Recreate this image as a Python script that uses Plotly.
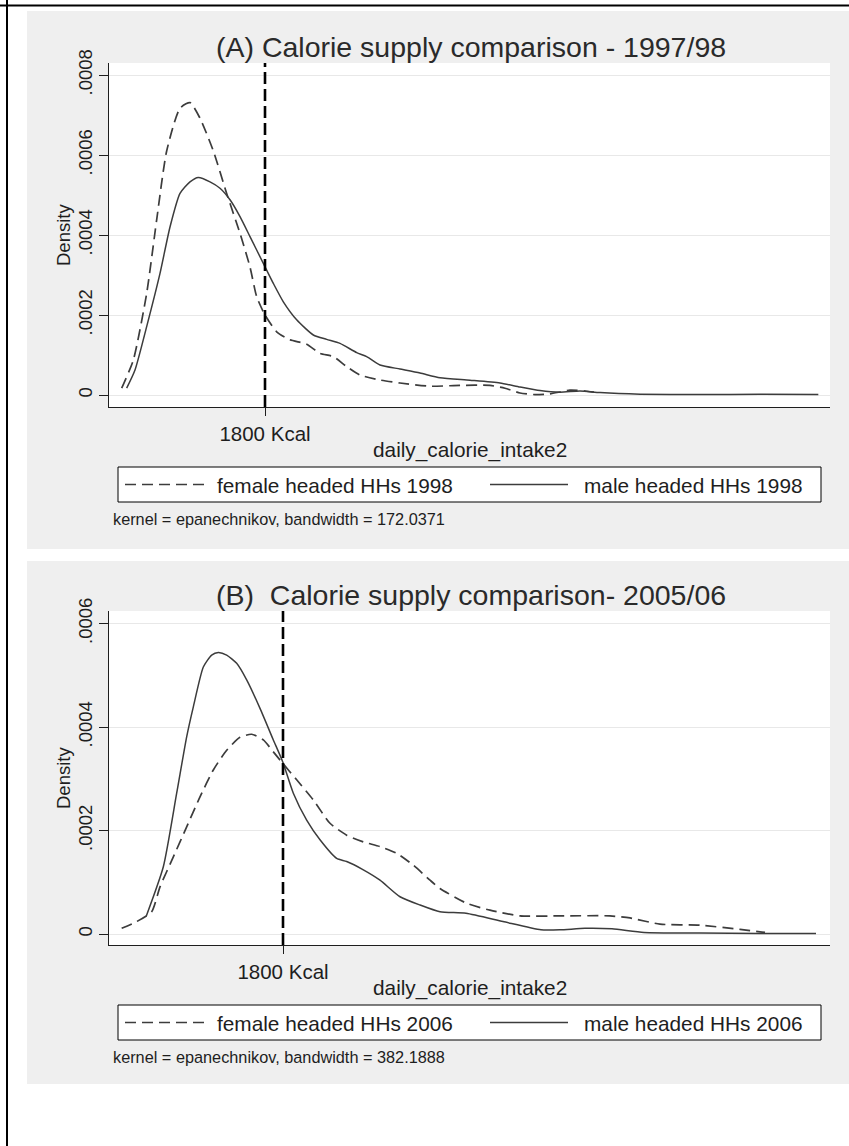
import plotly.graph_objects as go

# ---------------- data ----------------
cutoff_kcal = 1800

a_female_x = [510, 615, 735, 825, 915, 1035, 1125, 1215, 1335, 1455, 1575, 1665, 1725, 1800,
              1905, 2025, 2175, 2295, 2415, 2535, 2655, 2835, 3015, 3285, 3555, 3825, 3960,
              4095, 4230, 4365, 4545, 4680, 4800]
a_female_y = [1.7e-5, 8.75e-5, 2.54e-4, 4.38e-4, 6.1e-4, 7.17e-4, 7.31e-4, 6.92e-4, 6.1e-4,
              5.04e-4, 4.04e-4, 3.2e-4, 2.46e-4, 2.0e-4, 1.58e-4, 1.38e-4, 1.27e-4, 1.04e-4,
              9.6e-5, 7.1e-5, 5.0e-5, 3.75e-5, 3.0e-5, 2.2e-5, 2.4e-5, 2.4e-5, 1.7e-5, 5e-6,
              1e-6, 3e-6, 1.2e-5, 1.0e-5, 6e-6]

a_male_x = [555, 630, 735, 855, 945, 1035, 1125, 1200, 1305, 1395, 1485, 1575, 1665, 1785,
            1875, 1965, 2085, 2235, 2355, 2475, 2625, 2715, 2835, 3015, 3195, 3375, 3645,
            3915, 4095, 4275, 4455, 4635, 4815, 5175, 5715, 6255, 6780]
a_male_y = [1.7e-5, 6.25e-5, 1.71e-4, 3.04e-4, 4.2e-4, 5.04e-4, 5.33e-4, 5.44e-4, 5.33e-4,
            5.17e-4, 4.88e-4, 4.46e-4, 3.96e-4, 3.29e-4, 2.79e-4, 2.33e-4, 1.88e-4, 1.5e-4,
            1.39e-4, 1.29e-4, 1.06e-4, 9.6e-5, 7.5e-5, 6.5e-5, 5.5e-5, 4.3e-5, 3.7e-5, 3.0e-5,
            2.0e-5, 1.1e-5, 7e-6, 1.0e-5, 6e-6, 2e-6, 1e-6, 2e-6, 1e-6]

b_female_x = [348, 483, 618, 693, 813, 933, 1053, 1173, 1293, 1413, 1518, 1623, 1713, 1797,
              1923, 2073, 2223, 2373, 2523, 2673, 2823, 2973, 3123, 3213, 3447, 3663, 3933,
              4293, 4743, 4923, 5193, 5553, 5913, 6138]
b_female_y = [1.1e-5, 2.4e-5, 4.3e-5, 9.1e-5, 1.49e-4, 2.07e-4, 2.65e-4, 3.17e-4, 3.55e-4,
              3.8e-4, 3.86e-4, 3.75e-4, 3.52e-4, 3.30e-4, 2.98e-4, 2.59e-4, 2.14e-4, 1.91e-4,
              1.78e-4, 1.69e-4, 1.56e-4, 1.33e-4, 1.04e-4, 8.8e-5, 6.0e-5, 4.6e-5, 3.5e-5,
              3.5e-5, 3.5e-5, 3.1e-5, 1.9e-5, 1.7e-5, 9e-6, 3e-6]

b_male_x = [570, 723, 843, 933, 993, 1083, 1158, 1218, 1293, 1383, 1473, 1593, 1713, 1797,
            1893, 2013, 2133, 2283, 2373, 2523, 2673, 2853, 3033, 3213, 3447, 3780, 4122,
            4293, 4518, 4761, 5049, 5553, 6093, 6597]
b_male_y = [3.5e-5, 1.30e-4, 2.72e-4, 3.81e-4, 4.39e-4, 5.16e-4, 5.39e-4, 5.44e-4, 5.39e-4,
            5.23e-4, 4.91e-4, 4.36e-4, 3.75e-4, 3.33e-4, 2.72e-4, 2.2e-4, 1.82e-4, 1.46e-4,
            1.40e-4, 1.24e-4, 1.04e-4, 7.2e-5, 5.6e-5, 4.3e-5, 4.0e-5, 2.4e-5, 8e-6, 8e-6,
            1.1e-5, 1.0e-5, 3e-6, 2e-6, 1e-6, 1e-6]

a_ytick_vals = [0, 0.0002, 0.0004, 0.0006, 0.0008]
a_ytick_text = ["0", ".0002", ".0004", ".0006", ".0008"]
b_ytick_vals = [0, 0.0002, 0.0004, 0.0006]
b_ytick_text = ["0", ".0002", ".0004", ".0006"]

title_a = "(A) Calorie supply comparison - 1997/98"
title_b = "(B)  Calorie supply comparison- 2005/06"
names_a = ["female headed HHs 1998", "male headed HHs 1998"]
names_b = ["female headed HHs 2006", "male headed HHs 2006"]
note_a = "kernel = epanechnikov, bandwidth = 172.0371"
note_b = "kernel = epanechnikov, bandwidth = 382.1888"
x_title = "daily_calorie_intake2"
y_title = "Density"
cut_label = "1800 Kcal"

# ---------------- layout helpers ----------------
W, H = 849, 1146
FONT = "Liberation Sans, Arial, Helvetica, sans-serif"
INK = "#1e1e1e"
CURVE = "#3c3c3c"
PANEL = "#efefef"
GRID = "#e8e8e8"
DASH_CURVE = "11px,6px"


def fx(px):
    return px / W


def fy(py):
    return 1 - py / H


fig = go.Figure()

panels = [
    dict(xa="x", ya="y", top=11, bottom=549, ptop=63, pbot=407, zero=395, per=80,
         fem=(a_female_x, a_female_y), male=(a_male_x, a_male_y), names=names_a,
         title=title_a, note=note_a, yv=a_ytick_vals, yt=a_ytick_text,
         xr=[1800 - 156 * 9, 1800 + 565 * 9]),
    dict(xa="x2", ya="y2", top=561, bottom=1084, ptop=611, pbot=945, zero=934, per=103.5,
         fem=(b_female_x, b_female_y), male=(b_male_x, b_male_y), names=names_b,
         title=title_b, note=note_b, yv=b_ytick_vals, yt=b_ytick_text,
         xr=[1800 - 174 * 9, 1800 + 547 * 9]),
]

PL, PR = 109, 830
shapes = []
annotations = []

for i, p in enumerate(panels):
    fig.add_trace(go.Scatter(x=p["fem"][0], y=p["fem"][1], xaxis=p["xa"], yaxis=p["ya"],
                             mode="lines", name=p["names"][0], showlegend=False,
                             line=dict(color=CURVE, width=1.7, dash=DASH_CURVE,
                                       shape="spline", smoothing=0.6)))
    fig.add_trace(go.Scatter(x=p["male"][0], y=p["male"][1], xaxis=p["xa"], yaxis=p["ya"],
                             mode="lines", name=p["names"][1], showlegend=False,
                             line=dict(color=CURVE, width=1.5, shape="spline", smoothing=0.6)))

    ylo = -(p["pbot"] - p["zero"]) / p["per"] * 0.0002
    yhi = (p["zero"] - p["ptop"]) / p["per"] * 0.0002
    sfx = "" if i == 0 else "2"
    fig.layout["xaxis" + sfx] = dict(
        domain=[fx(PL), fx(PR)], anchor=p["ya"], range=p["xr"], showgrid=False,
        zeroline=False, showline=True, linecolor=INK, linewidth=1, ticks="outside",
        ticklen=8, tickcolor=INK, tickwidth=1, tickvals=[cutoff_kcal], ticktext=[cut_label],
        tickfont=dict(family=FONT, size=20.5, color=INK), fixedrange=True, automargin=False)
    fig.layout["yaxis" + sfx] = dict(
        domain=[fy(p["pbot"]), fy(p["ptop"])], anchor=p["xa"], range=[ylo, yhi],
        showgrid=True, gridcolor=GRID, gridwidth=1, zeroline=False, showline=True,
        linecolor=INK, linewidth=1, ticks="outside", ticklen=9, tickcolor=INK, tickwidth=1,
        tickvals=p["yv"], ticktext=p["yt"], tickangle=-90,
        tickfont=dict(family=FONT, size=18.5, color=INK), fixedrange=True, automargin=False)

    shapes.append(dict(type="rect", xref="paper", yref="paper", x0=fx(27), x1=1,
                       y0=fy(p["bottom"]), y1=fy(p["top"]), fillcolor=PANEL,
                       line=dict(width=0), layer="below"))
    shapes.append(dict(type="rect", xref="paper", yref="paper", x0=fx(PL), x1=fx(PR),
                       y0=fy(p["pbot"]), y1=fy(p["ptop"]), fillcolor="white",
                       line=dict(width=0), layer="below"))
    shapes.append(dict(type="line", xref=p["xa"], yref=p["ya"] + " domain", x0=cutoff_kcal,
                       x1=cutoff_kcal, y0=0, y1=1,
                       line=dict(color="black", width=2.6, dash="12px,5px"), layer="above"))

    off = p["pbot"]
    lt, lb = off + 60, off + 95
    shapes.append(dict(type="rect", xref="paper", yref="paper", x0=fx(118), x1=fx(821),
                       y0=fy(lb), y1=fy(lt), fillcolor="white",
                       line=dict(color="black", width=1), layer="above"))
    ly = (lt + lb) / 2
    shapes.append(dict(type="line", xref="paper", yref="paper", x0=fx(125), x1=fx(205),
                       y0=fy(ly), y1=fy(ly),
                       line=dict(color=CURVE, width=1.7, dash=DASH_CURVE), layer="above"))
    shapes.append(dict(type="line", xref="paper", yref="paper", x0=fx(490), x1=fx(568),
                       y0=fy(ly), y1=fy(ly),
                       line=dict(color=CURVE, width=1.5), layer="above"))
    annotations.append(dict(text=p["names"][0], xref="paper", yref="paper", x=fx(215),
                            y=fy(ly + 1), xanchor="left", yanchor="middle", showarrow=False,
                            font=dict(family=FONT, size=20.8, color=INK)))
    annotations.append(dict(text=p["names"][1], xref="paper", yref="paper", x=fx(582),
                            y=fy(ly + 1), xanchor="left", yanchor="middle", showarrow=False,
                            font=dict(family=FONT, size=20.8, color=INK)))
    annotations.append(dict(text=p["note"], xref="paper", yref="paper", x=fx(111),
                            y=fy(off + 112), xanchor="left", yanchor="middle",
                            showarrow=False, font=dict(family=FONT, size=16.3, color=INK)))
    annotations.append(dict(text=x_title, xref="paper", yref="paper", x=fx((PL + PR) / 2),
                            y=fy(off + 43), xanchor="center", yanchor="middle",
                            showarrow=False, font=dict(family=FONT, size=20.8, color=INK)))
    annotations.append(dict(text=p["title"], xref="paper", yref="paper", x=fx(471),
                            y=fy(p["ptop"] - 16), xanchor="center", yanchor="middle",
                            showarrow=False, font=dict(family=FONT, size=28.5, color="#2a2a2a")))
    annotations.append(dict(text=y_title, xref="paper", yref="paper", x=fx(63),
                            y=fy((p["ptop"] + p["pbot"]) / 2), xanchor="center",
                            yanchor="middle", textangle=-90, showarrow=False,
                            font=dict(family=FONT, size=18.5, color=INK)))

shapes.append(dict(type="line", xref="paper", yref="paper", x0=0, x1=1, y0=fy(5.5),
                   y1=fy(5.5), line=dict(color="black", width=2), layer="above"))
shapes.append(dict(type="line", xref="paper", yref="paper", x0=fx(7), x1=fx(7), y0=0,
                   y1=1, line=dict(color="black", width=2), layer="above"))

fig.update_layout(width=W, height=H, margin=dict(l=0, r=0, t=0, b=0, pad=0, autoexpand=False),
                  paper_bgcolor="white", plot_bgcolor="white", showlegend=False,
                  shapes=shapes, annotations=annotations,
                  font=dict(family=FONT, color=INK))

fig.write_html("out.html", config={"displayModeBar": False},
               post_script="document.body.style.margin='0px';")
